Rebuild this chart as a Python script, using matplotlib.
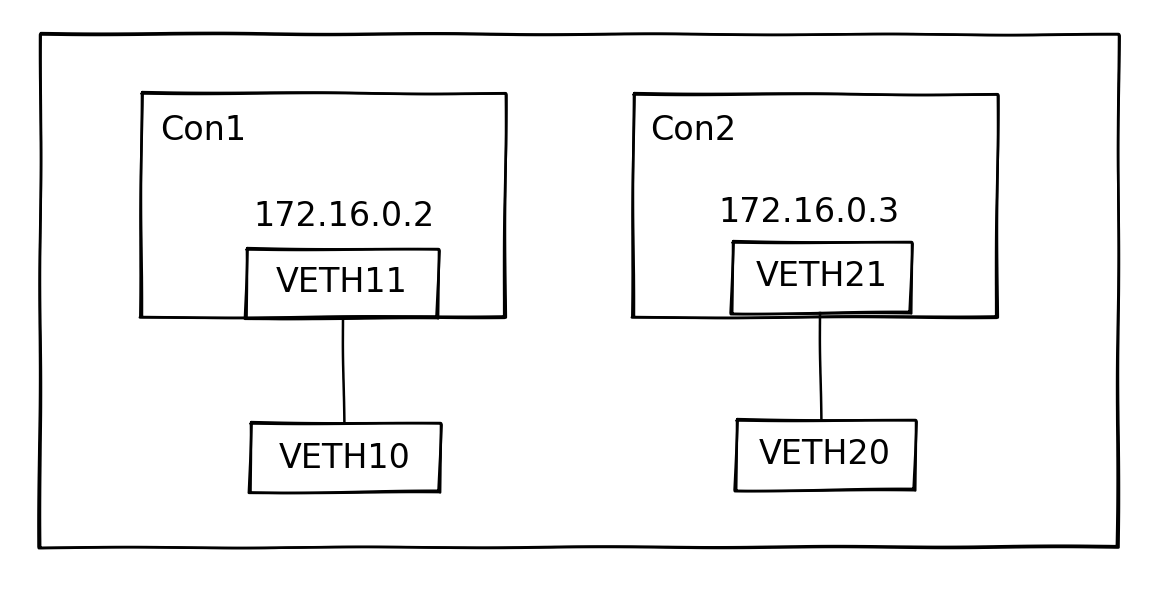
import matplotlib
matplotlib.use("Agg")
import matplotlib.pyplot as plt

# boxes: (name, left, top, right, bottom) in picture pixels
box_names = ["outer", "con1", "con2", "veth11", "veth21", "veth10", "veth20"]
box_left = [40, 141, 633, 246, 732, 250, 736]
box_top = [34, 93, 94, 249, 242, 423, 420]
box_right = [1118, 505, 997, 438, 911, 440, 915]
box_bottom = [547, 317, 317, 318, 313, 492, 490]

# links between containers' interfaces and host ends
link_x = [343, 820]
link_top = [318, 313]
link_bottom = [423, 420]

labels = ["Con1", "Con2", "172.16.0.2", "172.16.0.3", "VETH11", "VETH21", "VETH10", "VETH20"]
label_x = [160, 650, 344, 809, 342, 822, 345, 825]
label_y = [130, 130, 217, 213, 282, 276, 458, 455]
label_ha = ["left", "left", "center", "center", "center", "center", "center", "center"]

fig = plt.figure(figsize=(11.62, 5.90), dpi=100)
ax = fig.add_axes([0, 0, 1, 1])
ax.set_xlim(0, 1162)
ax.set_ylim(590, 0)
ax.axis("off")


def sketch_rect(l, t, r, b, lw=1.8):
    # two slightly offset strokes to mimic the hand drawn look
    for dx, dy in [(0, 0), (1.2, -0.9)]:
        xs = [l + dx, r + dx, r - dx, l - dx, l + dx]
        ys = [t + dy, t - dy, b + dy, b - dy, t + dy]
        ln, = ax.plot(xs, ys, color="black", lw=lw, solid_capstyle="round")
        ln.set_sketch_params(scale=0.5, length=250, randomness=2)


for i in range(len(box_names)):
    sketch_rect(box_left[i], box_top[i], box_right[i], box_bottom[i])

for x, t, b in zip(link_x, link_top, link_bottom):
    ln, = ax.plot([x, x + 1], [t, b], color="black", lw=1.8)
    ln.set_sketch_params(scale=0.4, length=150, randomness=2)

for s, x, y, ha in zip(labels, label_x, label_y, label_ha):
    ax.text(x, y, s, ha=ha, va="center", fontsize=24, color="black",
            family="DejaVu Sans", fontweight="medium")

fig.savefig("out.png", dpi=100, facecolor="white")
